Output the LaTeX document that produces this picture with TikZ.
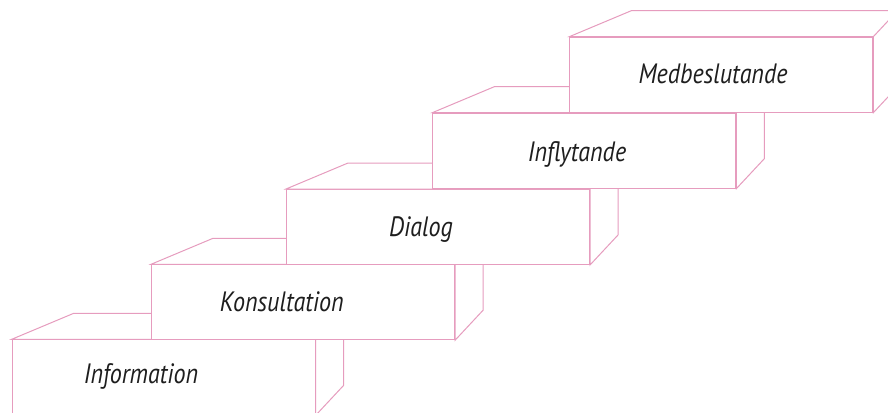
\documentclass[tikz,border=0pt]{standalone}
\usepackage{fontspec}
\newfontfamily\stepfont[FakeStretch=0.86]{PT Sans}
\usepackage{tikz}

\definecolor{stepline}{RGB}{230,156,190}
\definecolor{steptext}{RGB}{30,30,30}

\tikzset{
  stepface/.style={draw=stepline, fill=white, line width=1pt, line join=miter},
  stepfront/.style={stepface, rectangle, minimum width=303pt, minimum height=75pt,
    inner sep=0pt, anchor=north west},
  steplabel/.style={font=\stepfont\itshape\fontsize{28}{28}\selectfont, text=steptext,
    anchor=base, inner sep=0pt},
  topshift/.style={shift={(62,-26)}},
  sideshift/.style={shift={(28,-30)}}
}

\begin{document}
\begin{tikzpicture}[x=1pt, y=-1pt]
  \useasboundingbox (0,0) rectangle (888,412);
  \clip (0,0) rectangle (888,412);

  % Step 1
  \node[stepfront] (s1) at (11.7,339.3) {};
  \draw[stepface] (s1.north west) -- ([topshift]s1.north west) -- ([topshift]s1.north east) -- (s1.north east) -- cycle;
  \draw[stepface] (s1.north east) -- ([sideshift]s1.north east) -- ([sideshift]s1.south east) -- (s1.south east) -- cycle;
  \node[steplabel] (l1) at (141,383) {Information};

  % Step 2
  \node[stepfront] (s2) at (151,264.3) {};
  \draw[stepface] (s2.north west) -- ([topshift]s2.north west) -- ([topshift]s2.north east) -- (s2.north east) -- cycle;
  \draw[stepface] (s2.north east) -- ([sideshift]s2.north east) -- ([sideshift]s2.south east) -- (s2.south east) -- cycle;
  \node[steplabel] (l2) at (281.7,311.7) {Konsultation};

  % Step 3
  \node[stepfront] (s3) at (286,189) {};
  \draw[stepface] (s3.north west) -- ([topshift]s3.north west) -- ([topshift]s3.north east) -- (s3.north east) -- cycle;
  \draw[stepface] (s3.north east) -- ([sideshift]s3.north east) -- ([sideshift]s3.south east) -- (s3.south east) -- cycle;
  \node[steplabel] (l3) at (421,236) {Dialog};

  % Step 4
  \node[stepfront] (s4) at (432.3,112.7) {};
  \draw[stepface] (s4.north west) -- ([topshift]s4.north west) -- ([topshift]s4.north east) -- (s4.north east) -- cycle;
  \draw[stepface] (s4.north east) -- ([sideshift]s4.north east) -- ([sideshift]s4.south east) -- (s4.south east) -- cycle;
  \node[steplabel] (l4) at (577,161) {Inflytande};

  % Step 5
  \node[stepfront] (s5) at (569.3,36.7) {};
  \draw[stepface] (s5.north west) -- ([topshift]s5.north west) -- ([topshift]s5.north east) -- (s5.north east) -- cycle;
  \draw[stepface] (s5.north east) -- ([sideshift]s5.north east) -- ([sideshift]s5.south east) -- (s5.south east) -- cycle;
  \node[steplabel] (l5) at (713,83.3) {Medbeslutande};
\end{tikzpicture}
\end{document}
